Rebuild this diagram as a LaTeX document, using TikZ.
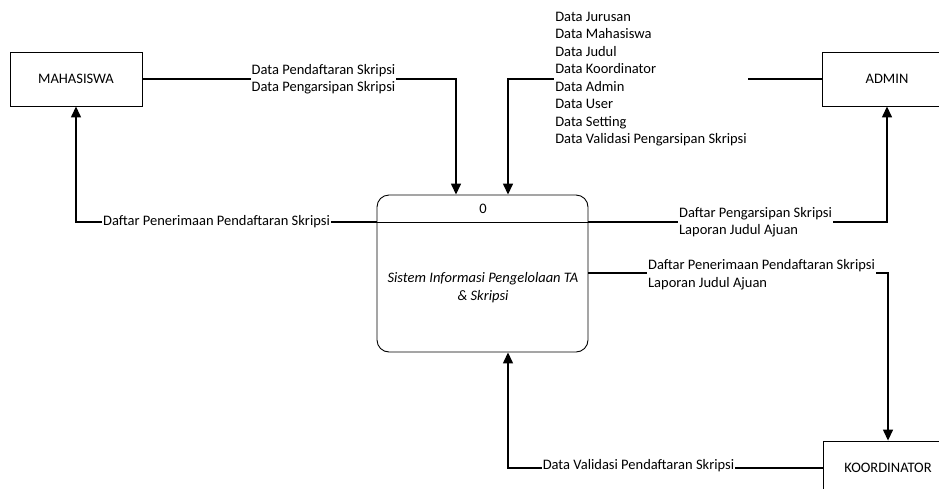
\documentclass[tikz,border=0pt]{standalone}
\usepackage{fontspec}
\setmainfont{Carlito}
\usetikzlibrary{arrows.meta}
\begin{document}
\begin{tikzpicture}[x=1pt,y=-1pt,
  every node/.style={font=\fontsize{14.5}{17.5}\selectfont},
  entity/.style={draw, line width=0.9pt, minimum width=132pt, minimum height=54pt, inner sep=0pt},
  procbox/.style={draw, line width=0.9pt, rounded corners=12pt, minimum width=211pt, minimum height=157pt, inner sep=0pt},
  flow/.style={line width=1.4pt, -{Triangle[width=10pt,length=11pt]}},
  wire/.style={line width=1.4pt},
  lbl/.style={fill=white, inner sep=1pt, align=left}]
  \useasboundingbox (0,0) rectangle (939,488);

  % external entities
  \node[entity] (mhs) at (76,79) {MAHASISWA};
  \node[entity, minimum width=130pt] (adm) at (887,79) {ADMIN};
  \node[entity, minimum width=130pt] (koor) at (888,468) {KOORDINATOR};

  % process
  \node[procbox] (proc) at (482.5,273.5) {};
  \coordinate (yhead) at (0,222);
  \coordinate (ymid) at (0,273);
  \draw[line width=0.9pt] (proc.west |- yhead) -- (proc.east |- yhead);
  \node (pnum) at (483,209) {0};
  \node[align=center, font=\fontsize{14.5}{17.5}\selectfont\itshape] (pname) at (483,287.5)
    {Sistem Informasi Pengelolaan TA\\ \& Skripsi};

  % data flows into the system
  \draw[flow] (mhs.east) -| ([xshift=-26.5pt]proc.north);
  \node[lbl] (l1) at (323.5,79) {Data Pendaftaran Skripsi\\Data Pengarsipan Skripsi};

  \draw[flow] (adm.west) -| ([xshift=25.5pt]proc.north);
  \node[lbl] (l2) at (651,79) {Data Jurusan\\Data Mahasiswa\\Data Judul\\Data Koordinator\\Data Admin\\Data User\\Data Setting\\Data Validasi Pengarsipan Skripsi};

  \draw[flow] (koor.west) -| ([xshift=25.5pt]proc.south);
  \node[lbl] (l6) at (638.5,466) {Data Validasi Pendaftaran Skripsi};

  % data flows out of the system
  \draw[flow] (proc.west |- yhead) -| (mhs.south);
  \node[lbl] (l3) at (216.5,222) {Daftar Penerimaan Pendaftaran Skripsi};

  \draw[flow] (proc.east |- yhead) -| (adm.south);
  \node[lbl] (l4) at (755.5,222) {Daftar Pengarsipan Skripsi\\Laporan Judul Ajuan};

  \draw[flow] (proc.east |- ymid) -| (koor.north);
  \node[lbl] (l5) at (761.5,274.5) {Daftar Penerimaan Pendaftaran Skripsi\\Laporan Judul Ajuan};
\end{tikzpicture}
\end{document}
